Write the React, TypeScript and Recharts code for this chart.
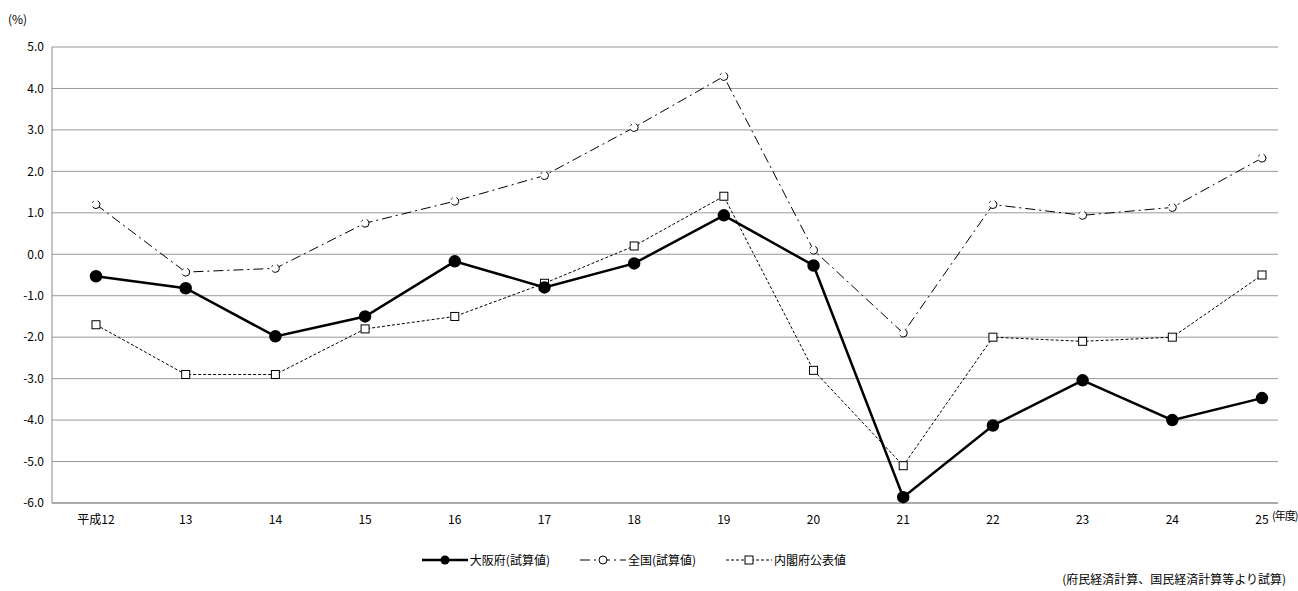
import { LineChart, Line, XAxis, YAxis, CartesianGrid } from 'recharts';

const years = ['平成12', '13', '14', '15', '16', '17', '18', '19', '20', '21', '22', '23', '24', '25'];
const osaka = [-0.53, -0.82, -1.98, -1.5, -0.17, -0.8, -0.22, 0.94, -0.27, -5.86, -4.13, -3.04, -4.0, -3.47];
const national = [1.2, -0.43, -0.34, 0.75, 1.28, 1.9, 3.06, 4.29, 0.1, -1.9, 1.2, 0.94, 1.13, 2.32];
const cabinet = [-1.7, -2.9, -2.9, -1.8, -1.5, -0.7, 0.2, 1.4, -2.8, -5.1, -2.0, -2.1, -2.0, -0.5];
const yTicks = [5, 4, 3, 2, 1, 0, -1, -2, -3, -4, -5, -6];

const data = years.map((y, i) => ({ year: y, osaka: osaka[i], national: national[i], cabinet: cabinet[i] }));

const FONT = '"Noto Sans CJK JP", "Noto Sans", sans-serif';

const SquareDot = (props: any) => {
  const { cx, cy } = props;
  if (cx == null || cy == null) return null;
  return <rect x={cx - 4} y={cy - 4} width={8} height={8} fill="#fff" stroke="#000" strokeWidth={1} />;
};

function LegendItem({ dash, width, marker, label }: { dash?: string; width: number; marker: React.ReactNode; label: string }) {
  return (
    <span style={{ display: 'inline-flex', alignItems: 'center', marginRight: 30 }}>
      <svg width={46} height={12}>
        <line x1={0} y1={6} x2={46} y2={6} stroke="#000" strokeWidth={width} strokeDasharray={dash} />
        {marker}
      </svg>
      <span style={{ marginLeft: 2 }}>{label}</span>
    </span>
  );
}

export default function App() {
  return (
    <div style={{ position: 'absolute', left: 0, top: 0, width: 1298, height: 591, background: '#fff', fontFamily: FONT }}>
      <LineChart width={1298} height={591} data={data} margin={{ top: 47, right: 20, left: 0, bottom: 58 }}>
        <CartesianGrid vertical={false} stroke="#999" />
        <XAxis
          dataKey="year"
          padding={{ left: 44, right: 16 }}
          tick={{ fontSize: 12, fill: '#000', fontFamily: FONT, dy: 4 }}
          tickLine={false}
          axisLine={{ stroke: '#888' }}
          interval={0}
          height={30}
        />
        <YAxis
          width={52}
          domain={[-6, 5]}
          ticks={yTicks}
          interval={0}
          tickFormatter={(v: number) => v.toFixed(1)}
          tick={{ fontSize: 12, fill: '#000', fontFamily: FONT }}
          tickLine={false}
          axisLine={{ stroke: '#888' }}
        />
        <Line
          dataKey="national"
          stroke="#000"
          strokeWidth={1}
          strokeDasharray="10 4 2 4"
          dot={{ r: 4, fill: '#fff', stroke: '#000', strokeWidth: 1 }}
          isAnimationActive={false}
        />
        <Line
          dataKey="cabinet"
          stroke="#000"
          strokeWidth={1}
          strokeDasharray="3 2"
          dot={<SquareDot />}
          isAnimationActive={false}
        />
        <Line
          dataKey="osaka"
          stroke="#000"
          strokeWidth={2.5}
          dot={{ r: 5, fill: '#000', stroke: '#000' }}
          isAnimationActive={false}
        />
      </LineChart>
      <div style={{ position: 'absolute', left: 8, top: 10, fontSize: 12 }}>(%)</div>
      <div style={{ position: 'absolute', left: 1272, top: 507, fontSize: 11, whiteSpace: 'nowrap', letterSpacing: -1 }}>(年度)</div>
      <div style={{ position: 'absolute', left: 0, width: 1298, top: 551, fontSize: 12, textAlign: 'center', display: 'flex', justifyContent: 'center' }}>
        <LegendItem width={2.5} label="大阪府(試算値)" marker={<circle cx={23} cy={6} r={4.5} fill="#000" />} />
        <LegendItem width={1} dash="10 4 2 4" label="全国(試算値)" marker={<circle cx={23} cy={6} r={4} fill="#fff" stroke="#000" />} />
        <LegendItem width={1} dash="3 2" label="内閣府公表値" marker={<rect x={19} y={2} width={8} height={8} fill="#fff" stroke="#000" />} />
      </div>
      <div style={{ position: 'absolute', right: 12, top: 570, fontSize: 12 }}>(府民経済計算、国民経済計算等より試算)</div>
    </div>
  );
}
